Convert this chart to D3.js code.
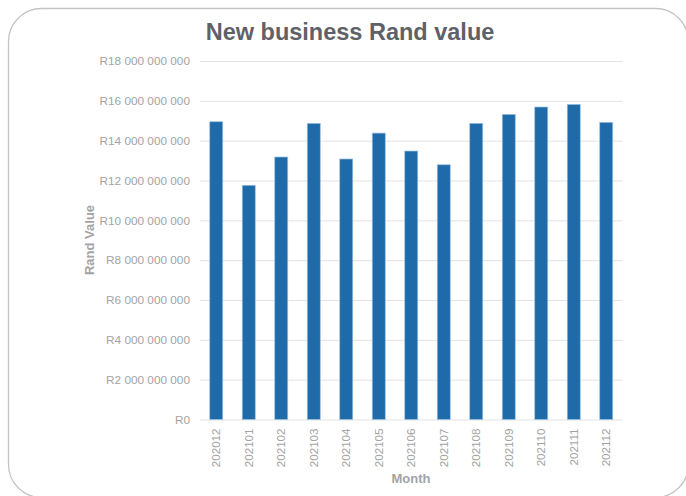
<!DOCTYPE html>
<html>
<head>
<meta charset="utf-8">
<script src="https://cdn.jsdelivr.net/npm/d3@7"></script>
<style>
  html, body { margin: 0; padding: 0; background: #ffffff; }
  svg { display: block; font-family: "Liberation Sans", Arial, sans-serif; }
</style>
</head>
<body>
<svg id="chart" width="686" height="496"></svg>
<script>
// Monthly new business value (Rand)
const months = ["202012", "202101", "202102", "202103", "202104", "202105", "202106",
                "202107", "202108", "202109", "202110", "202111", "202112"];
const randValues = [14.95e9, 11.76e9, 13.18e9, 14.87e9, 13.08e9, 14.38e9, 13.48e9,
                    12.79e9, 14.87e9, 15.32e9, 15.69e9, 15.82e9, 14.92e9];
const yTicks = [0, 2e9, 4e9, 6e9, 8e9, 10e9, 12e9, 14e9, 16e9, 18e9];

const chartTitle = "New business Rand value";
const xTitle = "Month";
const yTitle = "Rand Value";

const svg = d3.select("#chart");
const plot = { left: 200, right: 622.5, top: 61, bottom: 419.5 };

// Rounded chart frame
svg.append("rect")
  .attr("x", 8.5).attr("y", 8.5)
  .attr("width", 680).attr("height", 489)
  .attr("rx", 33).attr("ry", 33)
  .attr("fill", "#ffffff")
  .attr("stroke", "#c4c4c4")
  .attr("stroke-width", 1.3);

const x = d3.scaleBand()
  .domain(months)
  .range([plot.left, plot.right])
  .paddingInner(0.6)
  .paddingOuter(0.3);

const y = d3.scaleLinear()
  .domain([0, 18e9])
  .range([plot.bottom, plot.top]);

const fmtRand = v => "R" + d3.format(",")(v).replace(/,/g, " ");

// Horizontal gridlines + tick labels
const yAxis = d3.axisLeft(y)
  .tickValues(yTicks)
  .tickSize(-(plot.right - plot.left))
  .tickPadding(10)
  .tickFormat(fmtRand);

const gy = svg.append("g")
  .attr("transform", `translate(${plot.left},0)`)
  .call(yAxis);
gy.select(".domain").remove();
gy.selectAll(".tick line")
  .attr("stroke", "#e3e3e3")
  .attr("stroke-width", 1);
gy.selectAll(".tick text")
  .attr("fill", "#a3a3a3")
  .attr("font-size", "11.8px")
  .attr("font-family", "Liberation Sans, Arial, sans-serif");

// Bars
svg.append("g")
  .selectAll("rect")
  .data(months)
  .join("rect")
  .attr("x", (d) => x(d))
  .attr("width", x.bandwidth())
  .attr("y", (d, i) => y(randValues[i]))
  .attr("height", (d, i) => y(0) - y(randValues[i]))
  .attr("fill", "#1f6aa9")
  .attr("stroke", "#9cc0e2")
  .attr("stroke-width", 0.7);

// Category axis (rotated labels)
const xAxis = d3.axisBottom(x).tickSize(0).tickPadding(0);
const gx = svg.append("g")
  .attr("transform", `translate(0,${plot.bottom})`)
  .call(xAxis);
gx.select(".domain").remove();
gx.selectAll(".tick text")
  .attr("fill", "#a3a3a3")
  .attr("font-size", "11.6px")
  .attr("font-family", "Liberation Sans, Arial, sans-serif")
  .attr("text-anchor", "end")
  .attr("transform", "rotate(-90)")
  .attr("x", -9)
  .attr("y", 0)
  .attr("dy", "0.35em");

// Title
svg.append("text")
  .attr("x", 350).attr("y", 40)
  .attr("text-anchor", "middle")
  .attr("font-size", "23.5px")
  .attr("font-weight", "bold")
  .attr("fill", "#5f6168")
  .text(chartTitle);

// Axis titles
svg.append("text")
  .attr("x", 411).attr("y", 483)
  .attr("text-anchor", "middle")
  .attr("font-size", "13px")
  .attr("font-weight", "bold")
  .attr("fill", "#a3a3a3")
  .text(xTitle);

svg.append("text")
  .attr("transform", "translate(94,240) rotate(-90)")
  .attr("text-anchor", "middle")
  .attr("font-size", "13px")
  .attr("font-weight", "bold")
  .attr("fill", "#a3a3a3")
  .text(yTitle);
</script>
</body>
</html>
